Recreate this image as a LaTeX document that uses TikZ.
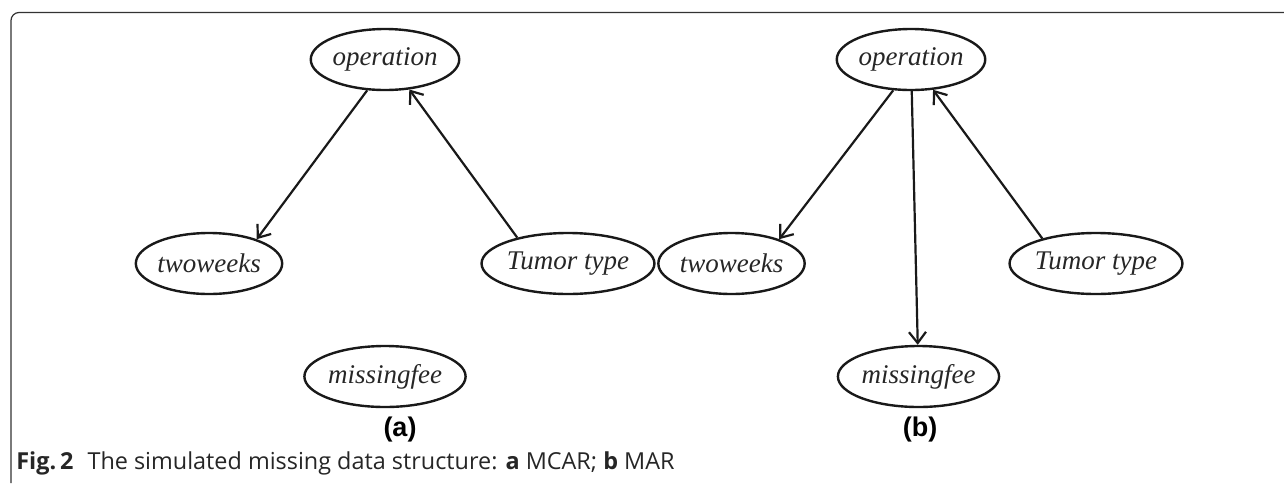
\documentclass[tikz,border=0pt]{standalone}
\usepackage{fontspec}
\setmainfont{Liberation Serif}
\newfontfamily\capfont{Open Sans}
\newfontfamily\labfont{Liberation Sans}
\usetikzlibrary{shapes.geometric,arrows.meta}
\begin{document}
\begin{tikzpicture}[x=0.5pt,y=-0.5pt,
  var/.style={ellipse,draw=black!90,line width=1.2pt,minimum width=65pt,minimum height=30.5pt,inner sep=0pt,
    font=\fontsize{13.5pt}{15pt}\selectfont\itshape,text=black!85},
  edge/.style={draw=black!90,line width=1.1pt,-{Straight Barb[length=5.5pt,width=8.5pt,line width=1.1pt]}},
  panel/.style={font=\labfont\bfseries\fontsize{13.5pt}{15pt}\selectfont},
  frame/.style={draw=black!80,line width=0.6pt,rounded corners=4pt}]
\useasboundingbox (0,0) rectangle (1284,483);
\draw[frame] (1284,12.5) -- (11,12.5) -- (11,483);
% panel (a)
\node[var] (opA) at (385,59.5) {operation};
\node[var] (twA) at (209,263.5) {twoweeks};
\node[var] (tuA) at (568,263.5) {Tumor type};
\node[var] (mfA) at (385,376.5) {missingfee};
\draw[edge] (opA.240) -- (twA.27);
\draw[edge] (tuA.153) -- (opA.309);
\node[panel] (la) at (400,430) {(a)};
% panel (b)
\node[var] (opB) at (911,59.5) {operation};
\node[var] (twB) at (731.5,263.5) {twoweeks};
\node[var] (tuB) at (1096,263.5) {Tumor type};
\node[var] (mfB) at (918.5,376.5) {missingfee};
\draw[edge] (opB.240) -- (twB.27);
\draw[edge] (tuB.155) -- (opB.306);
\draw[edge] (opB) -- (mfB);
\node[panel] (lb) at (920,430) {(b)};
% caption
\node[anchor=base west,inner sep=0pt,font=\capfont\fontsize{11.7pt}{13pt}\selectfont,text=black!85] (cap) at (16,469)
  {\textbf{Fig.\,2}\hspace{0.6em}The simulated missing data structure: \textbf{a} MCAR; \textbf{b} MAR};
\end{tikzpicture}
\end{document}
